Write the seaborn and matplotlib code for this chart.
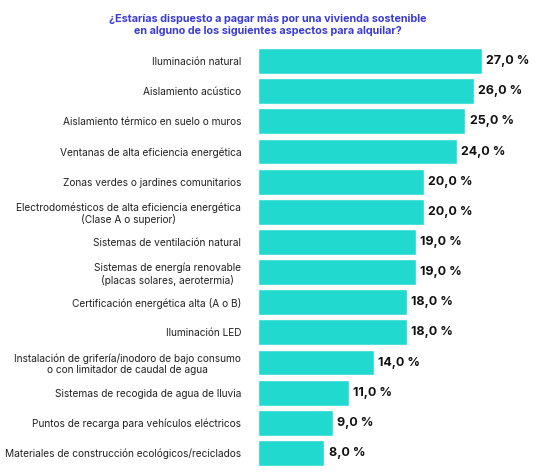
import matplotlib
matplotlib.use("Agg")
import matplotlib.pyplot as plt
import seaborn as sns
import pandas as pd

categories = [
    "Iluminación natural",
    "Aislamiento acústico",
    "Aislamiento térmico en suelo o muros",
    "Ventanas de alta eficiencia energética",
    "Zonas verdes o jardines comunitarios",
    "Electrodomésticos de alta eficiencia energética\n(Clase A o superior)",
    "Sistemas de ventilación natural",
    "Sistemas de energía renovable\n(placas solares, aerotermia)",
    "Certificación energética alta (A o B)",
    "Iluminación LED",
    "Instalación de grifería/inodoro de bajo consumo\no con limitador de caudal de agua",
    "Sistemas de recogida de agua de lluvia",
    "Puntos de recarga para vehículos eléctricos",
    "Materiales de construcción ecológicos/reciclados",
]
values = [27, 26, 25, 24, 20, 20, 19, 19, 18, 18, 14, 11, 9, 8]

df = pd.DataFrame({"cat": categories, "val": values})
sns.set_theme(style="white")
plt.rcParams["font.family"] = ["Inter", "DejaVu Sans"]

fig = plt.figure(figsize=(5.38, 4.74), dpi=100)
ax = fig.add_axes([258/538, 6/474, 1 - 258/538, 422/474])
sns.barplot(data=df, x="val", y="cat", color="#22d9cf", saturation=1, width=0.86, ax=ax)
ax.set_xlim(0, 27 * 280 / 224)
ax.set_ylim(len(values) - 0.5, -0.5)
for i, v in enumerate(values):
    ax.text(v + 0.5, i, f"{v:.1f} %".replace(".", ","), va="center", ha="left",
            fontsize=9, fontweight="bold", color="#111111")
ax.set_xlabel(""); ax.set_ylabel("")
ax.set_xticks([])
ax.tick_params(axis="y", length=0, pad=12, labelsize=7.3, colors="#222222")
for lbl in ax.get_yticklabels():
    lbl.set_horizontalalignment("right")
    lbl.set_multialignment("center")
sns.despine(ax=ax, left=True, bottom=True)
fig.text(268/538, 1 - 14/474, "¿Estarías dispuesto a pagar más por una vivienda sostenible\nen alguno de los siguientes aspectos para alquilar?",
         ha="center", va="top", fontsize=7.8, fontweight="bold", color="#3b3bd6", linespacing=1.3)
fig.savefig("out.png", dpi=100)
